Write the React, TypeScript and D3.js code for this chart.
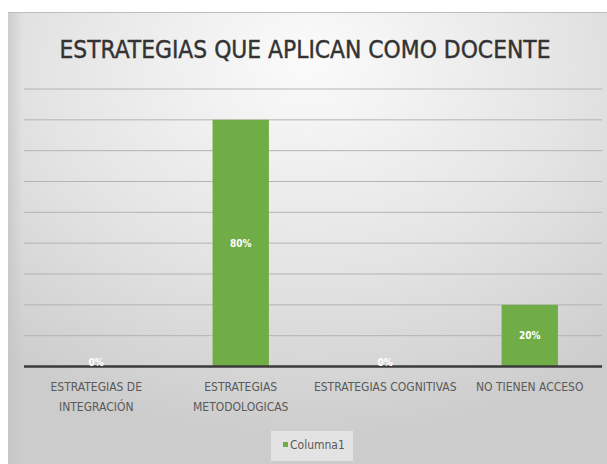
import React from "react";
import * as d3 from "d3";

const categories: string[][] = [
  ["ESTRATEGIAS DE", "INTEGRACIÓN"],
  ["ESTRATEGIAS", "METODOLOGICAS"],
  ["ESTRATEGIAS COGNITIVAS"],
  ["NO TIENEN ACCESO"],
];
const values: number[] = [0, 0.8, 0, 0.2];
const valueLabels: string[] = ["0%", "80%", "0%", "20%"];
const gridTicks: number[] = [0.1, 0.2, 0.3, 0.4, 0.5, 0.6, 0.7, 0.8, 0.9];
const title = "ESTRATEGIAS QUE APLICAN COMO DOCENTE";
const seriesName = "Columna1";

const W = 607;
const H = 464;
const FONT = "'Liberation Sans Narrow', 'DejaVu Sans Condensed', 'Roboto', sans-serif";

export default function App() {
  const keys = categories.map((_, i) => String(i));
  const x = d3.scaleBand<string>().domain(keys).range([24, 602]).paddingInner(0.61).paddingOuter(0.305);
  const y = d3.scaleLinear().domain([0, 0.9]).range([366.5, 89]);
  const y0 = y(0);

  return (
    <svg width={W} height={H} style={{ position: "absolute", left: 0, top: 0 }}>
      <defs>
        <radialGradient id="bg" cx="50%" cy="15%" r="80%" fx="50%" fy="10%">
          <stop offset="0%" stopColor="#fbfbfb" />
          <stop offset="55%" stopColor="#e4e4e4" />
          <stop offset="100%" stopColor="#cccccc" />
        </radialGradient>
        <linearGradient id="leftShade" x1="0" x2="1" y1="0" y2="0">
          <stop offset="0%" stopColor="#c4c4c4" stopOpacity={0.7} />
          <stop offset="100%" stopColor="#c4c4c4" stopOpacity={0} />
        </linearGradient>
      </defs>
      <rect x={0} y={0} width={W} height={H} fill="#ffffff" />
      <rect x={8} y={12} width={W - 8} height={H - 12} fill="url(#bg)" />
      <rect x={8} y={12} width={14} height={H - 12} fill="url(#leftShade)" />
      <line x1={8} x2={W} y1={12.5} y2={12.5} stroke="#bdbdbd" strokeWidth={1} />

      <text
        x={305}
        y={58}
        textAnchor="middle"
        fontFamily={FONT}
        fontSize={24.3}
        fill="#333333"
        stroke="#333333"
        strokeWidth={0.4}
      >
        {title}
      </text>

      {gridTicks.map((t) => (
        <line key={t} x1={24} x2={602} y1={y(t)} y2={y(t)} stroke="#b4b4b4" strokeWidth={1} />
      ))}

      {values.map((v, i) => (
        <rect
          key={i}
          x={x(String(i))}
          y={y(v)}
          width={x.bandwidth()}
          height={y0 - y(v)}
          fill="#70ad47"
        />
      ))}

      <line x1={24} x2={602} y1={y0} y2={y0} stroke="#3a3a3a" strokeWidth={2.5} />

      {values.map((v, i) => {
        const cx = (x(String(i)) as number) + x.bandwidth() / 2;
        const cy = v > 0 ? (y(v) + y0) / 2 : y0 - 4;
        return (
          <text
            key={i}
            x={cx}
            y={cy}
            dy="0.35em"
            textAnchor="middle"
            fontFamily={FONT}
            fontSize={10}
            fontWeight="bold"
            fill="#ffffff"
          >
            {valueLabels[i]}
          </text>
        );
      })}

      {categories.map((lines, i) => {
        const cx = (x(String(i)) as number) + x.bandwidth() / 2;
        return (
          <text key={i} textAnchor="middle" fontFamily={FONT} fontSize={12} fill="#595959">
            {lines.map((l, j) => (
              <tspan key={j} x={cx} y={391 + j * 20}>
                {l}
              </tspan>
            ))}
          </text>
        );
      })}

      <rect x={271} y={431} width={82} height={30} fill="#ededed" opacity={0.7} />
      <rect x={283} y={442} width={5} height={5} fill="#70ad47" />
      <text x={290} y={449} fontFamily={FONT} fontSize={12} fill="#595959">
        {seriesName}
      </text>
    </svg>
  );
}
